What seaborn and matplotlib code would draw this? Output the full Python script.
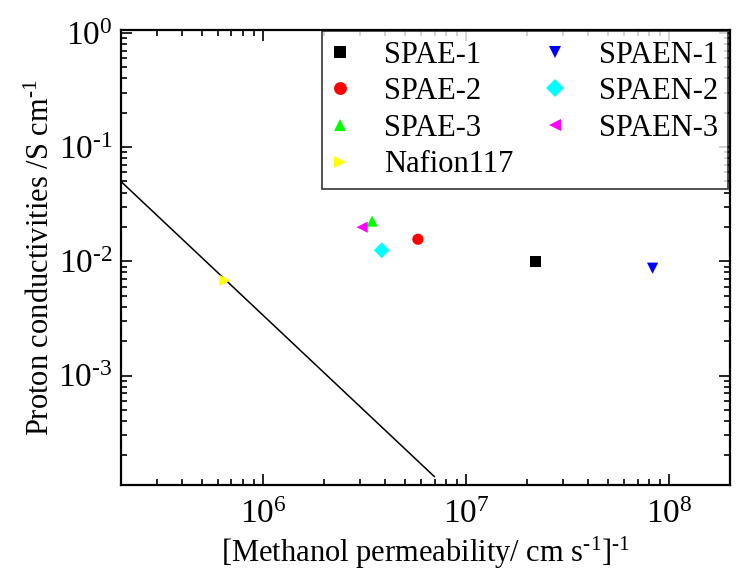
import matplotlib
matplotlib.use("Agg")
import matplotlib.pyplot as plt
import matplotlib.ticker as mticker
import numpy as np
import seaborn as sns
import pandas as pd

# samples
samples = ["SPAE-1", "SPAE-2", "SPAE-3", "Nafion117", "SPAEN-1", "SPAEN-2", "SPAEN-3"]
inv_permeability = [2.2e7, 5.8e6, 3.45e6, 6.5e5, 8.3e7, 3.85e6, 3.08e6]
conductivity = [0.0099, 0.0156, 0.0225, 0.0068, 0.0087, 0.0125, 0.0199]
colors = ["black", "red", "#00ff00", "yellow", "blue", "cyan", "magenta"]
markers = ["s", "o", "^", ">", "v", "D", "<"]

# trade-off line
line_x = [2.0e5, 7.0e6]
line_y = [0.05, 1.3e-4]

df = pd.DataFrame({"sample": samples, "x": inv_permeability, "y": conductivity})

sns.set_style("ticks", rc={"axes.edgecolor": "black", "text.color": "black",
                           "axes.labelcolor": "black", "xtick.color": "black",
                           "ytick.color": "black"})
plt.rcParams["font.family"] = ["Liberation Serif", "DejaVu Serif"]
plt.rcParams["mathtext.fontset"] = "custom"
plt.rcParams["mathtext.rm"] = "Liberation Serif"
plt.rcParams["mathtext.it"] = "Liberation Serif:italic"
plt.rcParams["mathtext.bf"] = "Liberation Serif:bold"
plt.rcParams["mathtext.default"] = "rm"

HY = "\u2010"  # plain hyphen, the reference uses a short dash in exponents


def pow10(v, pos):
    e = int(round(np.log10(v)))
    s = str(e).replace("-", HY)
    return r"$10^{%s}$" % s


fig = plt.figure(figsize=(7.36, 5.81), dpi=100)
ax = fig.add_axes([0.1644, 0.1652, 0.8276, 0.7832])

sns.scatterplot(data=df, x="x", y="y", hue="sample", style="sample",
                palette=dict(zip(samples, colors)), markers=dict(zip(samples, markers)),
                hue_order=samples, style_order=samples,
                s=65, linewidth=0, ax=ax, zorder=3)
sns.lineplot(x=line_x, y=line_y, color="black", linewidth=1.1, ax=ax, zorder=2)

ax.set_xscale("log")
ax.set_yscale("log")
ax.set_xlim(2e5, 2e8)
ax.set_ylim(1.1e-4, 1.06)
ax.xaxis.set_major_locator(mticker.FixedLocator([1e6, 1e7, 1e8]))
ax.yaxis.set_major_locator(mticker.FixedLocator([1e-3, 1e-2, 1e-1, 1e0]))
ax.xaxis.set_major_formatter(mticker.FuncFormatter(pow10))
ax.yaxis.set_major_formatter(mticker.FuncFormatter(pow10))
ax.xaxis.set_minor_locator(mticker.LogLocator(base=10, subs=range(2, 10), numticks=20))
ax.yaxis.set_minor_locator(mticker.LogLocator(base=10, subs=range(2, 10), numticks=20))
ax.yaxis.set_minor_formatter(mticker.NullFormatter())
ax.xaxis.set_minor_formatter(mticker.NullFormatter())

ax.tick_params(which="both", direction="in", top=True, right=True, labelsize=24, width=1.2)
ax.tick_params(which="major", length=8)
ax.tick_params(which="minor", length=4)
ax.tick_params(axis="x", pad=10)
ax.tick_params(axis="y", pad=6)
for sp in ax.spines.values():
    sp.set_linewidth(1.6)

ax.set_xlabel(r"[Methanol permeability/ cm s$^{%s1}$]$^{%s1}$" % (HY, HY), fontsize=22, labelpad=4)
ax.set_ylabel(r"Proton conductivities /S cm$^{%s1}$" % HY, fontsize=22, labelpad=2)

handles, labels = ax.get_legend_handles_labels()
leg = ax.legend(handles, labels, ncol=2, loc="upper right", bbox_to_anchor=(0.996, 0.997),
                fontsize=22, frameon=True, fancybox=False, edgecolor="black",
                handlelength=0.6, handletextpad=1.14, columnspacing=1.08,
                labelspacing=0.25, borderpad=0.3, borderaxespad=0, markerscale=1.15)
leg.get_frame().set_linewidth(1.2)

fig.savefig("out.png", dpi=100, facecolor="white")
